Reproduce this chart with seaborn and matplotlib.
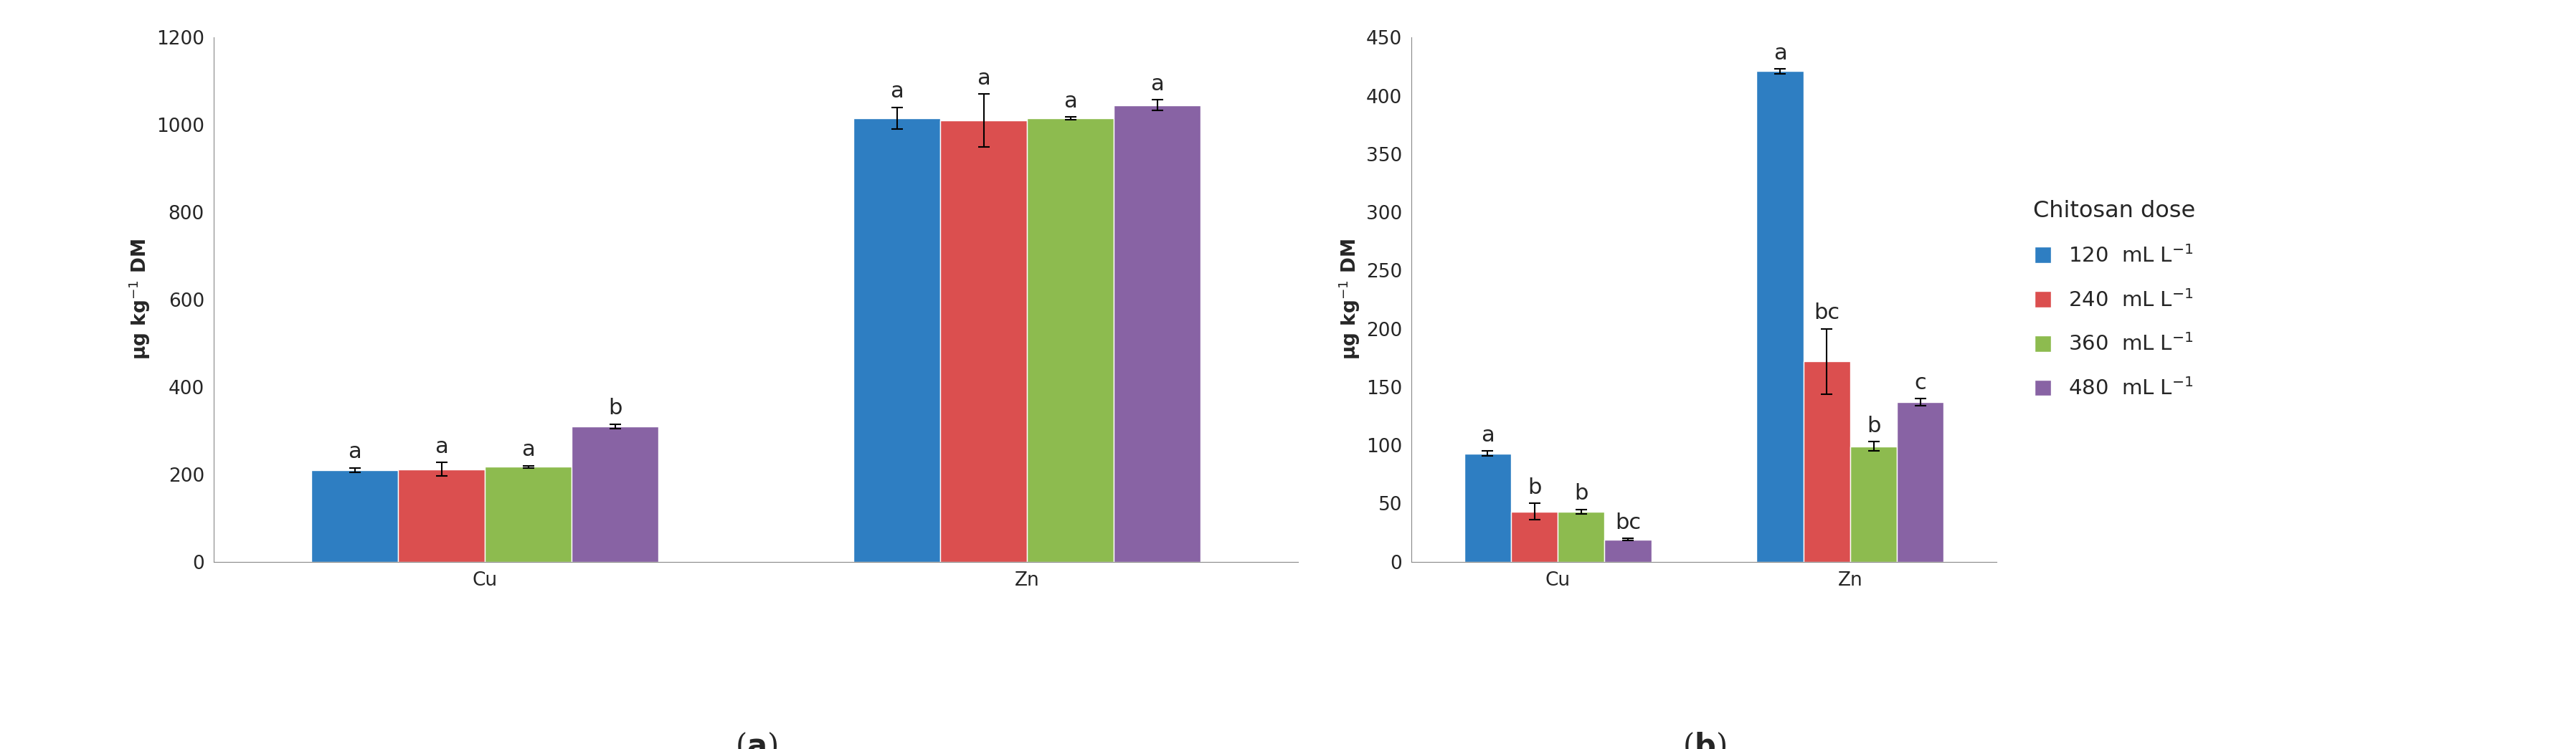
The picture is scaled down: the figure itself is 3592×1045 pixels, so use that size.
import pandas as pd
import matplotlib.pyplot as plt
import seaborn as sns

elements = ['Cu', 'Zn']
doses = ['120  mL L$^{-1}$', '240  mL L$^{-1}$', '360  mL L$^{-1}$', '480  mL L$^{-1}$']
colors = ['#2E7EC2', '#DB4F4F', '#8DBB4F', '#8863A4']

a_cu = [210, 212, 217, 310]
a_cu_err = [5, 15, 3, 5]
a_zn = [1015, 1010, 1015, 1045]
a_zn_err = [25, 60, 3, 12]
a_cu_let = ['a', 'a', 'a', 'b']
a_zn_let = ['a', 'a', 'a', 'a']

b_cu = [93, 43, 43, 19]
b_cu_err = [2, 7, 2, 1]
b_zn = [421, 172, 99, 137]
b_zn_err = [2, 28, 4, 3]
b_cu_let = ['a', 'b', 'b', 'bc']
b_zn_let = ['a', 'bc', 'b', 'c']


def make_df(cu, zn, cu_err, zn_err, cu_let, zn_let):
    rows = []
    for el, vals, errs, lets in [('Cu', cu, cu_err, cu_let), ('Zn', zn, zn_err, zn_let)]:
        for d, v, e, l in zip(doses, vals, errs, lets):
            rows.append({'el': el, 'dose': d, 'val': v, 'err': e, 'let': l})
    return pd.DataFrame(rows)


def panel(ax, df, ymax, step, label, legend):
    sns.barplot(data=df, x='el', y='val', hue='dose', order=elements,
                hue_order=doses, palette=colors, width=0.64, errorbar=None,
                saturation=1, ax=ax, legend=legend)
    bars = list(ax.containers)
    for i, cont in enumerate(bars):
        sub = df[df['dose'] == doses[i]].set_index('el').loc[elements]
        for bar, v, e, l in zip(cont.patches, sub['val'], sub['err'], sub['let']):
            x = bar.get_x() + bar.get_width() / 2
            ax.errorbar(x, v, yerr=e, color='black', capsize=6, lw=1.5, capthick=1.5)
            ax.text(x, v + e + ymax * 0.01, l, ha='center', va='bottom', fontsize=22)
    ax.set_ylim(0, ymax)
    ax.set_yticks(range(0, ymax + 1, step))
    ax.set_xlim(-0.5, 1.5)
    ax.set_xlabel('')
    ax.set_ylabel('µg kg$^{-1}$ DM', fontsize=19, fontweight='bold')
    ax.tick_params(labelsize=19, length=6)
    for s in ['top', 'right']:
        ax.spines[s].set_visible(False)
    ax.spines['left'].set_color('#888888')
    ax.spines['bottom'].set_color('#888888')
    ax.text(0.5, -0.37, '(' + r'$\bf{' + label + '}$' + ')', transform=ax.transAxes,
            ha='center', fontsize=30, family='DejaVu Serif')


sns.set_style('white')
plt.rcParams['font.family'] = ['DejaVu Sans']
fig = plt.figure(figsize=(35.92, 10.45), dpi=100)
ax1 = fig.add_axes([0.083, 0.25, 0.421, 0.70])
ax2 = fig.add_axes([0.548, 0.25, 0.227, 0.70])

panel(ax1, make_df(a_cu, a_zn, a_cu_err, a_zn_err, a_cu_let, a_zn_let), 1200, 200, 'a', False)
panel(ax2, make_df(b_cu, b_zn, b_cu_err, b_zn_err, b_cu_let, b_zn_let), 450, 50, 'b', True)
ax2.legend(title='Chitosan dose', loc='center left', bbox_to_anchor=(1.03, 0.5),
           frameon=False, fontsize=21, title_fontsize=23, labelspacing=1.1,
           handlelength=0.8, handleheight=0.8)
fig.savefig('out.png', dpi=100)
